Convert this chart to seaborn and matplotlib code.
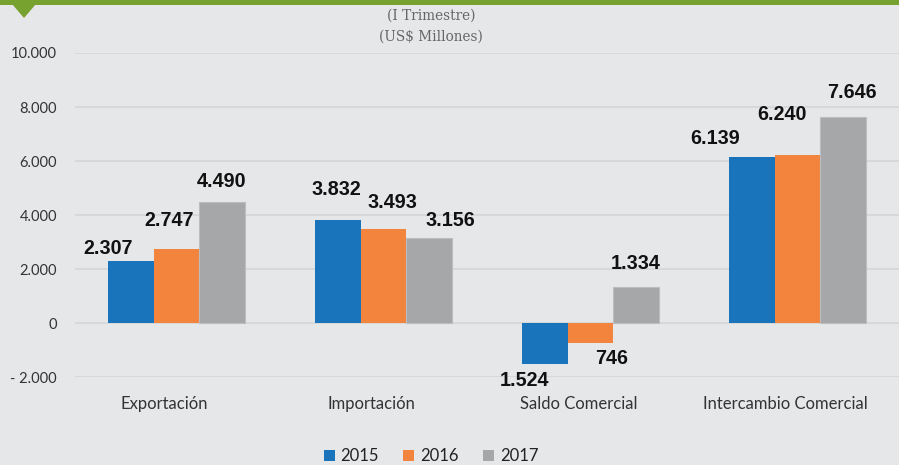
import numpy as np
import pandas as pd
import matplotlib
matplotlib.use("Agg")
import matplotlib.pyplot as plt
import matplotlib.transforms as mtransforms
from matplotlib.patches import Rectangle, Polygon
import seaborn as sns

categories = ["Exportación", "Importación", "Saldo Comercial", "Intercambio Comercial"]
years = ["2015", "2016", "2017"]
values_2015 = [2307, 3832, -1524, 6139]
values_2016 = [2747, 3493, -746, 6240]
values_2017 = [4490, 3156, 1334, 7646]
yticks = [-2000, 0, 2000, 4000, 6000, 8000, 10000]
ytick_labels = ["- 2.000", "0", "2.000", "4.000", "6.000", "8.000", "10.000"]
subtitle = ["(I Trimestre)", "(US$ Millones)"]

# hand-placed nudges (pixels) for the value labels, one row per year
label_nudge = [
    [(-23, 3), (-2, 21), (-20, 7), (-37, 9)],
    [(-7, 19), (9, 17), (21, 6), (-16, 31)],
    [(0, 11), (21, 8), (0, 14), (9, 15)],
]

colors = ["#1a74bc", "#f2843d", "#a6a7a8"]
bg = "#e6e7e9"

df = pd.DataFrame({
    "categoria": categories * 3,
    "anio": [y for y in years for _ in categories],
    "valor": values_2015 + values_2016 + values_2017,
})

sns.set_theme(style="white")
plt.rcParams["font.family"] = ["Lato", "DejaVu Sans"]

fig = plt.figure(figsize=(8.99, 4.65), dpi=100, facecolor=bg)
ax = fig.add_axes([75 / 899, 1 - 377 / 465, 1 - 75 / 899, (377 - 53) / 465])
ax.set_facecolor(bg)

sns.barplot(data=df, x="categoria", y="valor", hue="anio", order=categories,
            hue_order=years, palette=colors, width=0.66, saturation=1,
            edgecolor="none", ax=ax, legend=False)

# light outline on the grey bars
for bar in ax.containers[2]:
    bar.set_edgecolor("#bcbdbe")
    bar.set_linewidth(0.8)

ax.set_ylim(-2000, 10000)
ax.set_xlim(-0.49, 3.49)
ax.set_yticks(yticks)
ax.set_yticklabels(ytick_labels)
ax.yaxis.grid(True, color="#d5d5d5", linewidth=1.2)
ax.set_axisbelow(True)
for s in ax.spines.values():
    s.set_visible(False)
ax.set_xlabel("")
ax.set_ylabel("")
ax.tick_params(axis="y", length=0, pad=13, labelsize=10.5, labelcolor="#333333")
ax.tick_params(axis="x", length=0, pad=14, labelsize=12, labelcolor="#333333")
shift = mtransforms.ScaledTranslation(-12 / 100, 0, fig.dpi_scale_trans)
for lbl in ax.get_xticklabels():
    lbl.set_transform(lbl.get_transform() + shift)

# value labels (absolute values, thousands separated with a dot)
for i, cont in enumerate(ax.containers):
    for j, bar in enumerate(cont):
        h = bar.get_height()
        xc = bar.get_x() + bar.get_width() / 2
        dx, dy = label_nudge[i][j]
        txt = f"{abs(int(round(h))):,}".replace(",", ".")
        if h >= 0:
            ax.annotate(txt, (xc, h), xytext=(dx, dy), textcoords="offset pixels",
                        ha="center", va="bottom", fontsize=14.2, fontweight="bold",
                        color="#111111", family="Liberation Sans")
        else:
            ax.annotate(txt, (xc, h), xytext=(dx, -dy), textcoords="offset pixels",
                        ha="center", va="top", fontsize=14.2, fontweight="bold",
                        color="#111111", family="Liberation Sans")

# header band with pointer
fig.patches.append(Rectangle((0, 1 - 5 / 465), 1, 5 / 465, transform=fig.transFigure,
                             facecolor="#78a22f", edgecolor="none"))
fig.patches.append(Polygon([(12 / 899, 1 - 4 / 465), (36 / 899, 1 - 4 / 465),
                            (24 / 899, 1 - 18 / 465)], closed=True,
                           transform=fig.transFigure, facecolor="#78a22f",
                           edgecolor="none"))

fig.text(431 / 899, 1 - 16 / 465, subtitle[0], ha="center", va="center",
         fontsize=9.8, color="#666666", family="DejaVu Serif")
fig.text(431 / 899, 1 - 37 / 465, subtitle[1], ha="center", va="center",
         fontsize=9.8, color="#666666", family="DejaVu Serif")

handles = [Rectangle((0, 0), 1, 1, facecolor=c, edgecolor="none") for c in colors]
fig.legend(handles, years, loc="center", bbox_to_anchor=(431 / 899, 1 - 456 / 465),
           ncol=3, frameon=False, fontsize=12, handlelength=0.66, handleheight=0.66,
           handletextpad=0.36, columnspacing=1.45, labelcolor="#222222",
           borderpad=0, borderaxespad=0)

fig.savefig("out.png", dpi=100, facecolor=bg)
